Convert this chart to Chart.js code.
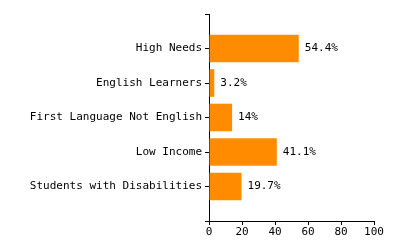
<!DOCTYPE html>
<html>
<head>
<meta charset="utf-8">
<script src="https://cdn.jsdelivr.net/npm/chart.js@4"></script>
<style>
  html, body { margin: 0; padding: 0; background: #fff; }
  #wrap { width: 400px; height: 250px; }
</style>
</head>
<body>
<div id="wrap"><canvas id="chart" width="400" height="250"></canvas></div>
<script>
// categorias (con huecos vacios arriba y abajo, como el original)
const categories = ["", "High Needs", "English Learners", "First Language Not English", "Low Income", "Students with Disabilities", ""];
const values = [null, 54.4, 3.2, 14, 41.1, 19.7, null];
const valueLabels = ["", "54.4%", "3.2%", "14%", "41.1%", "19.7%", ""];
const xTicks = [0, 20, 40, 60, 80, 100];

const FONT = "'DejaVu Sans Mono', monospace";

// etiquetas de valor al final de cada barra
const barLabels = {
  id: "barLabels",
  afterDatasetsDraw(chart) {
    const ctx = chart.ctx;
    const meta = chart.getDatasetMeta(0);
    ctx.save();
    ctx.font = "11px " + FONT;
    ctx.fillStyle = "#000";
    ctx.textAlign = "left";
    ctx.textBaseline = "middle";
    meta.data.forEach((bar, i) => {
      if (values[i] == null) return;
      ctx.fillText(valueLabels[i], bar.x + 6, bar.y);
    });
    ctx.restore();
  },
};

const el = document.getElementById("chart");
new Chart(el.getContext("2d"), {
  type: "bar",
  data: {
    labels: categories,
    datasets: [{
      data: values,
      backgroundColor: "#FF8C00",
      borderWidth: 0,
      barPercentage: 0.8,
      categoryPercentage: 1,
    }],
  },
  options: {
    indexAxis: "y",
    responsive: false,
    animation: false,
    layout: { padding: { top: 14, right: 26, left: 0, bottom: 0 } },
    plugins: { legend: { display: false }, tooltip: { enabled: false } },
    scales: {
      x: {
        type: "linear",
        min: 0,
        max: 100,
        afterBuildTicks: (s) => { s.ticks = xTicks.map((v) => ({ value: v })); },
        afterFit: (s) => { s.height = 29; },
        grid: { drawOnChartArea: false, drawTicks: true, tickLength: 4, color: "#000" },
        border: { color: "#000", width: 1 },
        ticks: { color: "#000", font: { family: FONT, size: 11 }, padding: 1, maxRotation: 0 },
      },
      y: {
        type: "category",
        offset: false,
        afterFit: (s) => { s.width = 209; },
        grid: { offset: false, drawOnChartArea: false, drawTicks: true, tickLength: 4, color: "#000" },
        border: { color: "#000", width: 1 },
        ticks: { color: "#000", font: { family: FONT, size: 11 }, padding: 3, autoSkip: false },
      },
    },
  },
  plugins: [barLabels],
});
</script>
</body>
</html>
